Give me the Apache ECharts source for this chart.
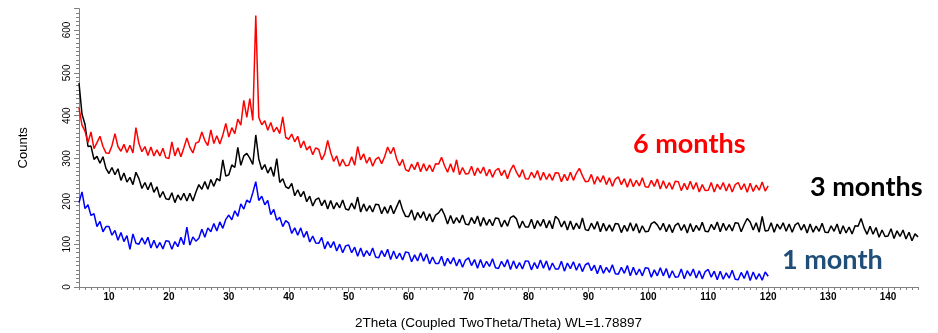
<!DOCTYPE html>
<html>
<head>
<meta charset="utf-8">
<script src="https://cdn.jsdelivr.net/npm/echarts@6/dist/echarts.min.js"></script>
<style>html,body{margin:0;padding:0;background:#fff;}#c{width:938px;height:333px;}</style>
</head>
<body>
<div id="c"></div>
<script>
// 2Theta sampling of the three patterns
const xStart = 5;
const xStep = 0.5;
const xMajorTicks = [10, 20, 30, 40, 50, 60, 70, 80, 90, 100, 110, 120, 130, 140];

// 6 months (5 .. 120 deg)
const red6 = [
 419, 378, 364, 337, 362, 323, 337, 352, 328, 313,
 312, 330, 358, 328, 317, 333, 314, 331, 313, 372,
 335, 316, 328, 307, 327, 306, 320, 306, 324, 302,
 300, 339, 306, 325, 304, 325, 348, 326, 313, 336,
 339, 362, 342, 330, 367, 335, 353, 334, 355, 382,
 350, 372, 358, 392, 378, 436, 396, 440, 389, 634,
 396, 379, 388, 366, 384, 362, 373, 358, 397, 349,
 345, 357, 339, 352, 325, 341, 320, 329, 309, 325,
 321, 297, 311, 342, 314, 293, 306, 282, 298, 283,
 284, 304, 284, 328, 297, 311, 289, 303, 282, 298,
 303, 288, 304, 327, 311, 326, 299, 283, 298, 274,
 270, 287, 274, 292, 269, 288, 271, 285, 269, 288,
 287, 303, 283, 268, 288, 268, 297, 262, 279, 264,
 265, 282, 260, 278, 265, 280, 259, 275, 256, 272,
 277, 260, 273, 253, 273, 285, 268, 256, 274, 253,
 252, 268, 255, 272, 249, 268, 251, 264, 249, 267,
 266, 246, 263, 248, 268, 249, 266, 277, 260, 246,
 247, 263, 240, 258, 245, 260, 239, 255, 235, 252,
 257, 239, 253, 233, 253, 234, 249, 236, 255, 234,
 233, 249, 235, 252, 229, 248, 230, 244, 228, 247,
 246, 225, 242, 227, 247, 228, 244, 222, 239, 225,
 226, 244, 222, 240, 228, 244, 224, 241, 222, 239,
 244, 227, 241, 221, 242, 223, 238, 226, 245, 224,
 236
];

// 3 months (5 .. 145 deg)
const black3 = [
 476, 404, 380, 328, 329, 298, 305, 289, 304, 277,
 265, 279, 262, 276, 249, 266, 245, 256, 239, 268,
 253, 230, 244, 227, 244, 221, 234, 209, 223, 206,
 204, 220, 197, 215, 203, 219, 201, 219, 201, 221,
 239, 228, 246, 228, 251, 235, 253, 248, 297, 259,
 262, 285, 279, 326, 284, 306, 312, 301, 286, 355,
 299, 274, 286, 266, 280, 258, 300, 244, 253, 234,
 230, 242, 213, 227, 211, 223, 199, 212, 189, 204,
 208, 190, 203, 182, 202, 182, 197, 185, 203, 182,
 180, 196, 182, 210, 175, 194, 177, 190, 175, 193,
 192, 171, 187, 172, 191, 171, 187, 203, 180, 165,
 164, 180, 156, 174, 161, 176, 155, 171, 152, 168,
 173, 183, 168, 147, 167, 148, 162, 150, 168, 147,
 145, 162, 148, 166, 142, 162, 144, 158, 143, 161,
 160, 140, 156, 142, 162, 166, 159, 137, 154, 140,
 140, 158, 136, 155, 142, 158, 138, 155, 136, 165,
 158, 140, 154, 133, 154, 134, 149, 136, 161, 134,
 132, 149, 135, 153, 129, 149, 131, 145, 130, 148,
 147, 127, 144, 130, 150, 131, 148, 126, 143, 129,
 130, 148, 152, 145, 133, 149, 129, 146, 127, 144,
 149, 132, 146, 126, 148, 129, 144, 132, 151, 130,
 129, 146, 134, 152, 129, 149, 132, 146, 131, 150,
 149, 129, 146, 160, 152, 133, 150, 128, 165, 131,
 132, 150, 128, 147, 135, 150, 130, 147, 128, 145,
 150, 133, 146, 126, 147, 128, 142, 130, 149, 128,
 127, 143, 130, 147, 124, 143, 126, 140, 124, 143,
 142, 160, 138, 123, 142, 123, 139, 116, 133, 118,
 119, 136, 113, 131, 118, 133, 112, 128, 108, 124,
 117
];

// 1 month (5 .. 120 deg)
const blue1 = [
 197, 222, 183, 192, 167, 171, 141, 153, 129, 141,
 141, 121, 132, 109, 127, 106, 120, 88, 124, 102,
 100, 115, 100, 116, 91, 109, 91, 104, 89, 108,
 107, 88, 106, 94, 116, 99, 140, 98, 117, 107,
 114, 135, 116, 138, 129, 148, 131, 152, 137, 158,
 168, 157, 178, 165, 194, 182, 203, 197, 220, 246,
 202, 212, 192, 202, 169, 181, 156, 163, 141, 155,
 149, 125, 138, 121, 138, 116, 130, 105, 119, 103,
 102, 116, 89, 106, 92, 106, 84, 100, 80, 96,
 98, 80, 93, 72, 91, 71, 85, 73, 91, 70,
 68, 85, 71, 88, 64, 84, 66, 79, 63, 82,
 80, 59, 75, 61, 80, 60, 77, 54, 70, 55,
 55, 72, 49, 67, 54, 69, 49, 65, 46, 63,
 68, 50, 64, 44, 64, 45, 60, 48, 66, 45,
 43, 60, 47, 64, 41, 61, 43, 57, 42, 61,
 60, 40, 57, 43, 63, 44, 61, 39, 56, 42,
 42, 60, 37, 56, 43, 59, 39, 55, 36, 52,
 56, 38, 51, 31, 51, 32, 46, 34, 52, 31,
 30, 46, 32, 50, 26, 46, 28, 42, 26, 45,
 44, 23, 40, 26, 45, 26, 43, 21, 38, 23,
 24, 42, 19, 38, 26, 42, 21, 38, 19, 36,
 41, 23, 37, 17, 37, 18, 33, 21, 39, 18,
 17, 34, 20, 38, 15, 35, 18, 31, 16, 35,
 25
];

function pairs(arr) { return arr.map((v, i) => [xStart + i * xStep, v]); }

const axisGray = '#808080';
const lineW = 1.5;
const chart = echarts.init(document.getElementById('c'), null, { renderer: 'canvas' });
chart.setOption({
  animation: false,
  backgroundColor: '#fff',
  grid: { left: 79, right: 20, top: 8.6, bottom: 46, containLabel: false, outerBoundsMode: 'none' },
  xAxis: [{
    type: 'value', min: 5, max: 145, position: 'bottom',
    name: '2Theta (Coupled TwoTheta/Theta) WL=1.78897',
    nameLocation: 'middle', nameGap: 29,
    nameTextStyle: { fontFamily: 'Liberation Sans', fontSize: 13.5, color: '#000' },
    axisLine: { show: true, lineStyle: { color: axisGray, width: 1 } },
    axisTick: { show: true, customValues: xMajorTicks, length: 5, lineStyle: { color: axisGray } },
    axisLabel: { customValues: xMajorTicks, margin: 5, fontFamily: 'Liberation Sans', fontSize: 10, fontWeight: 'bold', color: '#000' },
    splitLine: { show: false }
  }, {
    type: 'value', min: 5, max: 145, position: 'bottom', interval: 1,
    axisLine: { show: false },
    axisTick: { show: true, length: 3, lineStyle: { color: axisGray } },
    axisLabel: { show: false },
    splitLine: { show: false }
  }],
  yAxis: {
    type: 'value', min: 0, max: 650, interval: 100,
    name: 'Counts', nameLocation: 'middle', nameGap: 49, nameRotate: 90,
    nameTextStyle: { fontFamily: 'Liberation Sans', fontSize: 13, color: '#000' },
    axisLine: { show: true, lineStyle: { color: axisGray, width: 1 } },
    axisTick: { show: true, length: 5, lineStyle: { color: axisGray } },
    minorTick: { show: true, splitNumber: 10, length: 3, lineStyle: { color: axisGray } },
    axisLabel: { rotate: 90, margin: 7, showMaxLabel: false, fontFamily: 'Liberation Sans', fontSize: 10, color: '#000' },
    splitLine: { show: false }
  },
  series: [
    { name: '1 month', type: 'line', data: pairs(blue1), showSymbol: false, lineStyle: { color: '#0000FF', width: lineW }, itemStyle: { color: '#0000FF' } },
    { name: '3 months', type: 'line', data: pairs(black3), showSymbol: false, lineStyle: { color: '#000000', width: lineW }, itemStyle: { color: '#000' } },
    { name: '6 months', type: 'line', data: pairs(red6), showSymbol: false, lineStyle: { color: '#FF0000', width: lineW }, itemStyle: { color: '#FF0000' } }
  ],
  graphic: [
    { type: 'text', left: 633, top: 131, style: { text: '6 months', font: 'bold 27px Lato', fill: '#FF0000' } },
    { type: 'text', left: 810, top: 174, style: { text: '3 months', font: 'bold 27px Lato', fill: '#000000' } },
    { type: 'text', left: 782, top: 247, style: { text: '1 month', font: 'bold 27px Lato', fill: '#1F4E79' } }
  ]
});
</script>
</body>
</html>
